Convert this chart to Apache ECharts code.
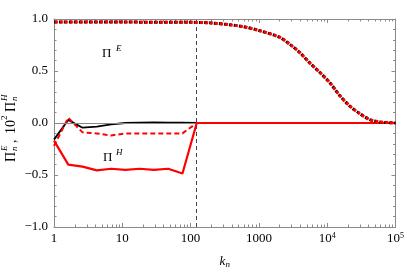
<!DOCTYPE html>
<html>
<head>
<meta charset="utf-8">
<script src="https://cdn.jsdelivr.net/npm/echarts@6/dist/echarts.min.js"></script>
<style>html,body{margin:0;padding:0;background:#fff}#c{width:407px;height:274px}</style>
</head>
<body>
<div id="c"></div>
<script>
// Shell wavenumbers k_n (golden-ratio shells) and the low-k curves
const kShells = [1, 1.618, 2.618, 4.236, 6.854, 11.09, 17.94, 29.03, 46.98, 76.01, 122.99, 100000];
const piHBlack = [-0.16, 0.03, -0.045, -0.035, -0.013, 0.0, 0.003, 0.006, 0.004, 0.004, 0, 0];
const piHDashed = [-0.22, 0.05, -0.09, -0.10, -0.12, -0.10, -0.10, -0.10, -0.10, -0.10, 0, 0];
const piHSolid = [-0.17, -0.40, -0.42, -0.455, -0.44, -0.45, -0.44, -0.45, -0.44, -0.485, 0, 0];
// Energy flux curves (dotted)
const kE = [1, 10, 100, 200, 370, 600, 1000, 2000, 2800, 4000, 5500, 7700, 11000, 15000, 21000, 30000, 42000, 58000, 82000, 100000];
const piEBlack = [0.97, 0.97, 0.968, 0.962, 0.945, 0.925, 0.89, 0.825, 0.76, 0.675, 0.58, 0.49, 0.385, 0.27, 0.168, 0.09, 0.033, 0.01, 0.003, 0.0];
const piERed = [0.97, 0.97, 0.968, 0.962, 0.945, 0.925, 0.89, 0.825, 0.76, 0.675, 0.58, 0.49, 0.385, 0.27, 0.168, 0.09, 0.033, 0.01, 0.003, 0.0];
const forcingK = 122.99;
const yTicks = [-1, -0.5, 0, 0.5, 1];
const minorK = [2,3,4,5,6,7,8,9,20,30,40,50,60,70,80,90,200,300,400,500,600,700,800,900,
  2000,3000,4000,5000,6000,7000,8000,9000,20000,30000,40000,50000,60000,70000,80000,90000];

const FONT = '"Liberation Serif", "Times New Roman", serif';
const FRAME = '#8a8a8a';
const zip = (a, b) => a.map((v, i) => [v, b[i]]);

const chart = echarts.init(document.getElementById('c'), null, {renderer: 'canvas'});

const xBase = {
  type: 'log', logBase: 10, min: 1, max: 100000,
  axisLine: {show: true, onZero: false, lineStyle: {color: FRAME, width: 1}},
  splitLine: {show: false},
  axisTick: {show: true, inside: true, length: 4, lineStyle: {color: FRAME}}
};
const yBase = {
  type: 'value', min: yTicks[0], max: yTicks[yTicks.length - 1], interval: 0.5,
  axisLine: {show: true, onZero: false, lineStyle: {color: FRAME, width: 1}},
  splitLine: {show: false},
  axisTick: {show: true, inside: true, length: 4, lineStyle: {color: FRAME}},
  minorTick: {show: true, splitNumber: 5, length: 2.5, lineStyle: {color: FRAME}}
};

const T = (text, x, y, font) => ({type: 'text', x: x, y: y,
  style: {text: text, font: font, fill: '#000', verticalAlign: 'middle'}});
const F13 = '13px "Liberation Serif"';
const F14 = '14px "Liberation Serif"';
const I9 = 'italic 9px "Liberation Serif"';

const option = {
  animation: false,
  grid: {left: 54, right: 11, top: 19, bottom: 43},
  xAxis: [
    Object.assign({}, xBase, {
      position: 'bottom',
      name: '{k|k}{n|n}', nameLocation: 'middle', nameGap: 27,
      nameTextStyle: {rich: {
        k: {fontFamily: FONT, fontStyle: 'italic', fontSize: 13, color: '#000'},
        n: {fontFamily: FONT, fontStyle: 'italic', fontSize: 9, color: '#000', padding: [6, 0, 0, 0]}
      }},
      axisLabel: {
        show: true, margin: 5, color: '#000', fontFamily: FONT, fontSize: 13,
        formatter: function (v) {
          const p = Math.round(Math.log10(v));
          if (p <= 3) return '{b|' + Math.round(v) + '}';
          return '{b|10}{s|' + p + '}';
        },
        rich: {
          b: {fontFamily: FONT, fontSize: 13, color: '#000'},
          s: {fontFamily: FONT, fontSize: 8, color: '#000', padding: [0, 0, 6, 0]}
        }
      }
    }),
    Object.assign({}, xBase, {position: 'top', axisLabel: {show: false}})
  ],
  yAxis: [
    Object.assign({}, yBase, {
      position: 'left',
      axisLabel: {
        show: true, margin: 6, color: '#000', fontFamily: FONT, fontSize: 13,
        formatter: function (v) { const s = Math.abs(v).toFixed(1); return v < 0 ? '\u2212' + s : s; }
      }
    }),
    Object.assign({}, yBase, {position: 'right', axisLabel: {show: false}})
  ],
  graphic: [
    T('Π', 102, 54, F13), T('E', 116, 49, I9),
    T('Π', 103, 158, F13), T('H', 116, 153, I9),
    {type: 'group', x: 11, y: 162, rotation: Math.PI / 2, children: [
      T('Π', 0, 0, F14), T('E', 11, -6, I9), T('n', 11, 4, I9),
      T(',', 19, 1, F14), T('10', 28, 0, F14), T('2', 42, -6, '9px "Liberation Serif"'),
      T('Π', 50, 0, F14), T('H', 61, -6, I9), T('n', 61, 4, I9)
    ]}
  ],
  series: [
    {
      type: 'custom', xAxisIndex: 0, yAxisIndex: 0, silent: true,
      data: minorK.map(v => [v, 0]), encode: {x: 0, y: 1},
      renderItem: function (params, api) {
        const x = Math.round(api.coord([api.value(0), 0])[0]) + 0.5;
        const cs = params.coordSys;
        const st = {stroke: FRAME, lineWidth: 1};
        return {type: 'group', children: [
          {type: 'line', shape: {x1: x, y1: cs.y + cs.height, x2: x, y2: cs.y + cs.height - 2.5}, style: st},
          {type: 'line', shape: {x1: x, y1: cs.y, x2: x, y2: cs.y + 2.5}, style: st}
        ]};
      }
    },
    {
      type: 'line', data: zip(kShells, piHBlack), showSymbol: false, z: 3,
      lineStyle: {color: '#000', width: 1.8},
      markLine: {silent: true, symbol: 'none', label: {show: false},
        lineStyle: {color: '#888', width: 1, type: 'solid'},
        data: [{yAxis: 0}]}
    },
    {
      type: 'line', data: zip(kShells, piHDashed), showSymbol: false, z: 4,
      lineStyle: {color: '#ff0000', width: 2, type: [5, 3]}
    },
    {
      type: 'line', data: zip(kShells, piHSolid), showSymbol: false, z: 5,
      lineStyle: {color: '#ff0000', width: 2.2},
      markLine: {silent: true, symbol: 'none', label: {show: false},
        lineStyle: {color: '#444', width: 1, type: [4, 3]},
        data: [{xAxis: forcingK}]}
    },
    {
      type: 'line', data: zip(kE, piEBlack), showSymbol: false, smooth: 0.3, z: 6,
      lineStyle: {color: '#000', width: 3, type: [3, 2], cap: 'butt'}
    },
    {
      type: 'line', data: zip(kE, piERed), showSymbol: false, smooth: 0.3, z: 7,
      lineStyle: {color: '#ff0000', width: 3, type: [3, 2], dashOffset: 4, cap: 'butt'}
    }
  ]
};
chart.setOption(option);
</script>
</body>
</html>
